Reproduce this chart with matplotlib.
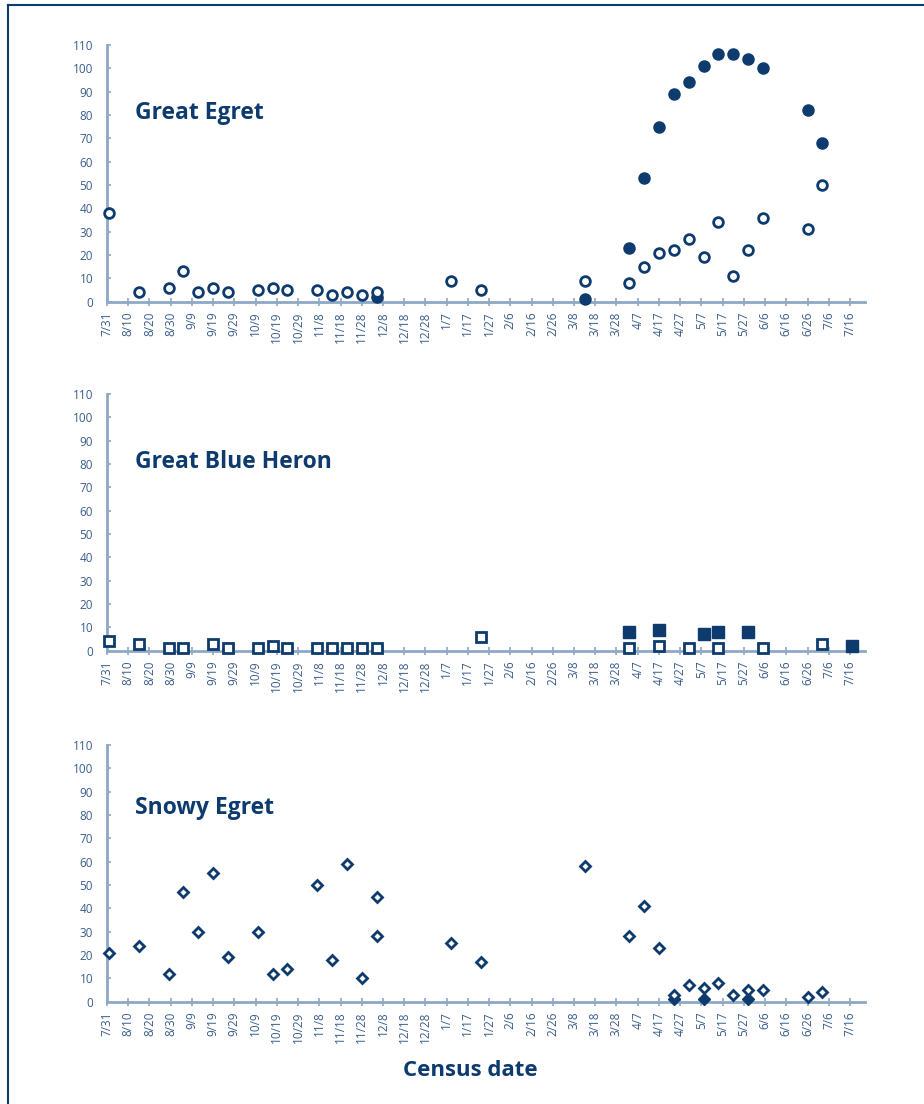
import numpy as np
import pandas as pd
import matplotlib
matplotlib.use("Agg")
from matplotlib import pyplot as plt
from matplotlib.lines import Line2D

# census dates (days after 7/31)
start = pd.Timestamp("2010-07-31")

# Great Egret
ge_open_day = [1, 15, 29, 36, 43, 50, 57, 71, 78, 85, 99, 106, 113, 120, 127, 162, 176,
               225, 246, 253, 260, 267, 274, 281, 288, 295, 302, 309, 330, 337]
ge_open_val = [38, 4, 6, 13, 4, 6, 4, 5, 6, 5, 5, 3, 4, 3, 4, 9, 5,
               9, 8, 15, 21, 22, 27, 19, 34, 11, 22, 36, 31, 50]
ge_fill_day = [127, 225, 246, 253, 260, 267, 274, 281, 288, 295, 302, 309, 330, 337]
ge_fill_val = [2, 1, 23, 53, 75, 89, 94, 101, 106, 106, 104, 100, 82, 68]

# Great Blue Heron
gbh_open_day = [1, 15, 29, 36, 50, 57, 71, 78, 85, 99, 106, 113, 120, 127, 176,
                246, 260, 274, 288, 309, 337]
gbh_open_val = [4, 3, 1, 1, 3, 1, 1, 2, 1, 1, 1, 1, 1, 1, 6,
                1, 2, 1, 1, 1, 3]
gbh_fill_day = [246, 260, 281, 288, 302, 351]
gbh_fill_val = [8, 9, 7, 8, 8, 2]

# Snowy Egret
se_open_day = [1, 15, 29, 36, 43, 50, 57, 71, 78, 85, 99, 106, 113, 120, 127, 127, 162, 176,
               225, 246, 253, 260, 267, 274, 281, 288, 295, 302, 309, 330, 337]
se_open_val = [21, 24, 12, 47, 30, 55, 19, 30, 12, 14, 50, 18, 59, 10, 45, 28, 25, 17,
               58, 28, 41, 23, 3, 7, 6, 8, 3, 5, 5, 2, 4]
se_fill_day = [267, 281, 302]
se_fill_val = [1, 1, 1]

titles = ["Great Egret", "Great Blue Heron", "Snowy Egret"]

tick_days = np.arange(0, 351, 10)
tick_labels = [f"{d.month}/{d.day}" for d in start + pd.to_timedelta(tick_days, unit="D")]

navy = "#0d3b6e"
axis_col = "#8ea8c6"
label_col = "#3a5d8c"

fig = plt.figure(figsize=(9.24, 11.04), dpi=100)
plt.rcParams['font.family'] = ['Open Sans', 'DejaVu Sans']

panels = [
    (ge_open_day, ge_open_val, ge_fill_day, ge_fill_val, "o", 7, 8),
    (gbh_open_day, gbh_open_val, gbh_fill_day, gbh_fill_val, "s", 7, 8),
    (se_open_day, se_open_val, se_fill_day, se_fill_val, "D", 5.5, 6),
]
bottoms = [0.7267, 0.4106, 0.0927]
height = 0.2325
title_y = [0.736, 0.737, 0.753]

for i, (od, ov, fd, fv, mk, ms, fms) in enumerate(panels):
    ax = fig.add_axes([0.1158, bottoms[i], 0.936 - 0.1158, height])
    ax.plot(fd, fv, linestyle="none", marker=mk, markersize=fms,
            color=navy, markeredgecolor=navy, clip_on=False, zorder=3)
    ax.plot(od, ov, linestyle="none", marker=mk, markersize=ms,
            markerfacecolor="white", markeredgecolor=navy, markeredgewidth=2,
            clip_on=False, zorder=4)
    ax.set_xlim(0, 357)
    ax.set_ylim(0, 110)
    ax.set_yticks(np.arange(0, 111, 10))
    ax.set_xticks(tick_days)
    ax.set_xticklabels(tick_labels, rotation=90)
    for s in ["top", "right"]:
        ax.spines[s].set_visible(False)
    for s in ["left", "bottom"]:
        ax.spines[s].set_color(axis_col)
        ax.spines[s].set_linewidth(2)
    ax.tick_params(axis="y", direction="in", length=3, width=1.2, color=axis_col,
                   labelsize=8.5, labelcolor=label_col, pad=10)
    ax.tick_params(axis="x", direction="inout", length=6, width=1.2, color=axis_col,
                   labelsize=8.5, labelcolor=label_col, pad=4)
    ax.text(0.037, title_y[i], titles[i], transform=ax.transAxes,
            fontsize=16.5, fontweight="bold", color=navy, va="center")

fig.text(0.509, 0.03, "Census date", ha="center", va="center",
         fontsize=16, fontweight="bold", color=navy)

# frame lines at top and left of the picture
fig.add_artist(Line2D([8 / 924, 8 / 924], [0, 1 - 5 / 1104], color=navy, linewidth=1.5))
fig.add_artist(Line2D([8 / 924, 1], [1 - 5 / 1104, 1 - 5 / 1104], color=navy, linewidth=1.5))

fig.savefig("out.png", dpi=100, facecolor="white")
